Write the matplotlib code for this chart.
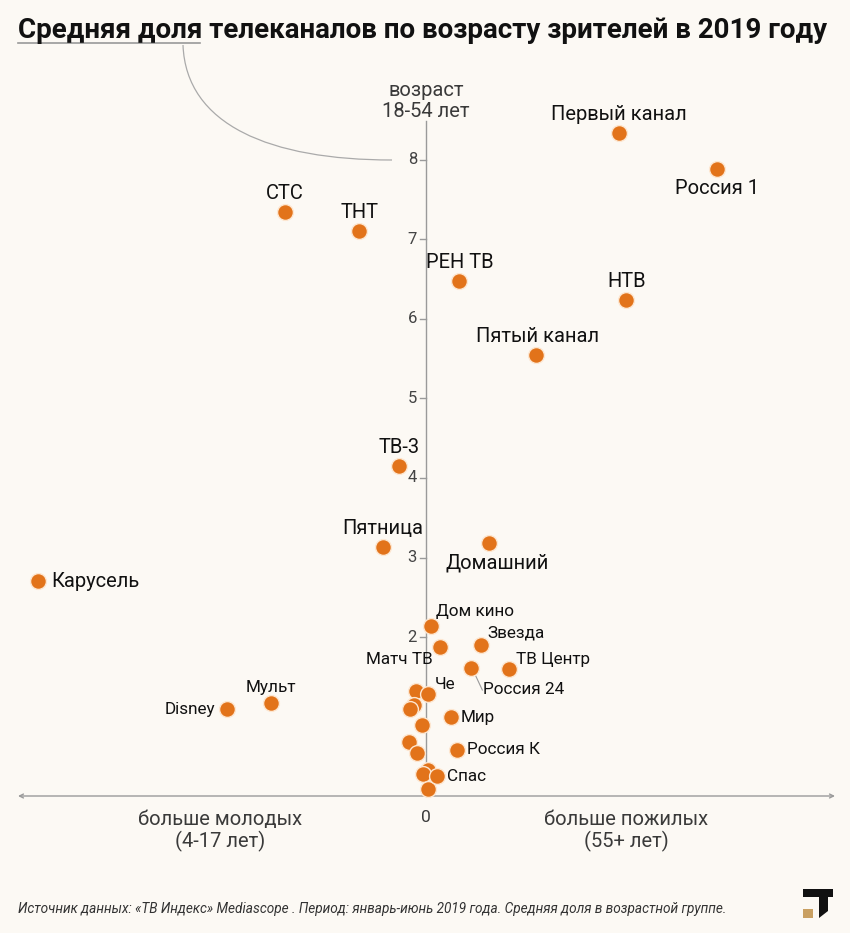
import matplotlib
matplotlib.use("Agg")
import matplotlib.pyplot as plt
from matplotlib.path import Path
from matplotlib.patches import PathPatch, Polygon, Rectangle

plt.rcParams['font.family'] = ['Roboto', 'DejaVu Sans']

# ---- data ----
channels = ["Первый канал", "Россия 1", "СТС", "ТНТ", "РЕН ТВ", "НТВ", "Пятый канал",
            "ТВ-3", "Пятница", "Домашний", "Карусель", "Дом кино", "Матч ТВ", "Звезда",
            "Россия 24", "ТВ Центр", "Disney", "Мульт", "Че", "Мир", "Россия К", "Спас"]
x_vals = [2.43, 3.66, -1.77, -0.84, 0.42, 2.52, 1.38,
          -0.34, -0.54, 0.79, -4.88, 0.06, 0.17, 0.69,
          0.57, 1.04, -2.50, -1.95, 0.03, 0.31, 0.39, 0.14]
y_vals = [8.34, 7.89, 7.35, 7.11, 6.48, 6.24, 5.55,
          4.15, 3.13, 3.18, 2.70, 2.14, 1.88, 1.90,
          1.61, 1.60, 1.09, 1.17, 1.28, 0.99, 0.58, 0.25]
# unlabeled channels
other_x = [-0.13, -0.15, -0.20, -0.05, -0.21, -0.11, 0.03, -0.04, 0.03]
other_y = [1.32, 1.14, 1.09, 0.89, 0.68, 0.54, 0.33, 0.28, 0.09]
y_ticks = [2, 3, 4, 5, 6, 7, 8]

title = "Средняя доля телеканалов по возрасту зрителей в 2019 году"
source = ("Источник данных: «ТВ Индекс» Mediascope . Период: январь-июнь 2019 года. "
          "Средняя доля в возрастной группе.")

# ---- label placement (offset in pixels, ha, va, size) ----
big, small = 14.5, 12.3
label_style = {
    "Первый канал": (0, 9, "center", "bottom", big),
    "Россия 1": (0, -10, "center", "top", big),
    "СТС": (0, 9, "center", "bottom", big),
    "ТНТ": (0, 9, "center", "bottom", big),
    "РЕН ТВ": (0, 9, "center", "bottom", big),
    "НТВ": (0, 9, "center", "bottom", big),
    "Пятый канал": (2, 9, "center", "bottom", big),
    "ТВ-3": (0, 9, "center", "bottom", big),
    "Пятница": (0, 9, "center", "bottom", big),
    "Домашний": (8, -10, "center", "top", big),
    "Карусель": (13, 0, "left", "center", big),
    "Дом кино": (5, 7, "left", "bottom", small),
    "Матч ТВ": (-7, -5, "right", "top", small),
    "Звезда": (7, 4, "left", "bottom", small),
    "Россия 24": (12, -14, "left", "top", small),
    "ТВ Центр": (7, 2, "left", "bottom", small),
    "Disney": (-12, 0, "right", "center", small),
    "Мульт": (0, 8, "center", "bottom", small),
    "Че": (6, 2, "left", "bottom", small),
    "Мир": (10, 0, "left", "center", small),
    "Россия К": (10, 0, "left", "center", small),
    "Спас": (10, 0, "left", "center", small),
}

W, H = 850, 933
bg = "#fcf9f4"
orange = "#e2731a"
px = 79.5      # pixels per unit
x0p, y0p = 426, 796

fig = plt.figure(figsize=(W / 100, H / 100), dpi=100, facecolor=bg)

# decoration axes in pixel coords
deco = fig.add_axes([0, 0, 1, 1])
deco.set_xlim(0, W)
deco.set_ylim(H, 0)
deco.axis("off")
deco.set_facecolor("none")

# data axes
ax = fig.add_axes([0, 0, 1, 1])
ax.set_xlim(-x0p / px, (W - x0p) / px)
ax.set_ylim(-(H - y0p) / px, y0p / px)
ax.axis("off")
ax.patch.set_alpha(0)

# axes lines
ax.annotate("", xy=((18 - x0p) / px, 0), xytext=((835 - x0p) / px, 0),
            arrowprops=dict(arrowstyle="<->", color="#9a9a9a", lw=1.0,
                            mutation_scale=7, shrinkA=0, shrinkB=0))
ax.plot([0, 0], [0, (y0p - 121) / px], color="#9a9a9a", lw=1.0, zorder=1)
for t in y_ticks:
    ax.plot([-6 / px, 0], [t, t], color="#9a9a9a", lw=1.0)
    ax.text(-9 / px, t, str(t), ha="right", va="center", fontsize=12,
            color="#444444")

# points
ax.scatter(other_x, other_y, s=130, color=orange, edgecolor="#fde6d0",
           linewidth=1.0, zorder=3)
ax.scatter(x_vals, y_vals, s=130, color=orange, edgecolor="#fde6d0",
           linewidth=1.0, zorder=4)

for name, xv, yv in zip(channels, x_vals, y_vals):
    dx, dy, ha, va, fs = label_style[name]
    ax.annotate(name, (xv, yv), xytext=(dx * 0.72, dy * 0.72),
                textcoords="offset points", ha=ha, va=va, fontsize=fs,
                color="#111111", zorder=5)

# leader line for Россия 24
i24 = channels.index("Россия 24")
deco.plot([x0p + x_vals[i24] * px + 4, x0p + x_vals[i24] * px + 11],
          [y0p - y_vals[i24] * px + 7, y0p - y_vals[i24] * px + 22],
          color="#999999", lw=0.8)

# axis titles
ax_title_kw = dict(ha="center", va="center", fontsize=14.5, color="#3a3a3a",
                   linespacing=1.15)
deco.text(426, 101, "возраст\n18-54 лет", **ax_title_kw)
deco.text(220, 831, "больше молодых\n(4-17 лет)", **ax_title_kw)
deco.text(626, 831, "больше пожилых\n(55+ лет)", **ax_title_kw)
deco.text(426, 818, "0", ha="center", va="center", fontsize=12.5,
          color="#3a3a3a")

# title
deco.text(18, 30, title, ha="left", va="center", fontsize=20.0,
          fontweight="bold", color="#111111")
deco.plot([18, 200], [43, 43], color="#999999", lw=1.2)
curve = Path([(183, 45), (186, 125), (270, 160), (392, 160)],
             [Path.MOVETO, Path.CURVE4, Path.CURVE4, Path.CURVE4])
deco.add_patch(PathPatch(curve, fill=False, edgecolor="#aaaaaa", lw=0.9))

# source
deco.text(18, 909, source, ha="left", va="center", fontsize=9.85,
          style="italic", color="#333333")

# logo
deco.add_patch(Polygon([(803, 889), (833, 889), (833, 897), (828, 897),
                        (828, 911), (819, 918), (819, 897), (803, 897)],
                       closed=True, facecolor="#111111", edgecolor="none"))
deco.add_patch(Rectangle((803, 909), 10, 9, facecolor="#c9a062",
                         edgecolor="none"))

fig.savefig("out.png", dpi=100, facecolor=bg)
